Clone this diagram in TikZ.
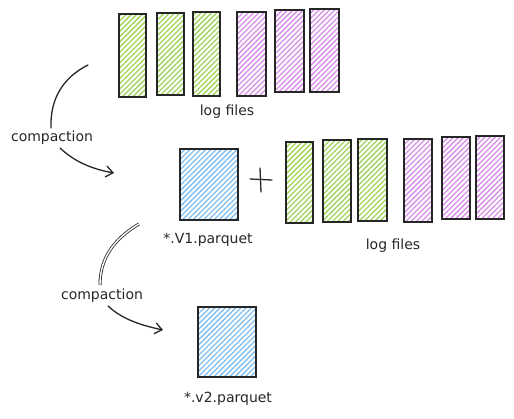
\documentclass[tikz,border=0pt]{standalone}
\usepackage{fontspec}
\setmainfont{DejaVu Sans}
\usetikzlibrary{patterns.meta,arrows.meta}
\definecolor{hgreen}{HTML}{9CD35A}
\definecolor{hpurple}{HTML}{D68BE8}
\definecolor{hblue}{HTML}{7DBDF2}
\tikzset{
  hatch/.style={pattern={Lines[angle=45,distance=3.7pt,line width=1.3pt]}},
  filebox/.style={draw=black!85, line width=1.4pt, inner sep=0pt, minimum width=28pt, minimum height=83pt},
  greenf/.style={filebox, hatch, pattern color=hgreen},
  purplef/.style={filebox, hatch, pattern color=hpurple},
  parq/.style={draw=black!85, line width=1.4pt, inner sep=0pt, minimum width=58pt, minimum height=71pt, hatch, pattern color=hblue},
  lbl/.style={font=\fontsize{14}{16}\selectfont, text=black!85, inner sep=0pt},
  sk/.style={line width=1.3pt, draw=black!85, line cap=round},
  arr/.style={sk, -{Straight Barb[length=7pt,width=11pt,line width=1.3pt]}}
}
\begin{document}
\begin{tikzpicture}[x=1pt,y=-1pt]
\useasboundingbox (0,0) rectangle (514,418);
% top row
\node[greenf, minimum width=27pt, minimum height=83pt] (g1) at (132.5,55.5) {};
\node[greenf, minimum width=27pt, minimum height=82pt] (g2) at (170.5,54) {};
\node[greenf, minimum width=27pt, minimum height=84pt] (g3) at (206.5,54) {};
\node[purplef, minimum width=29pt, minimum height=84pt] (p1) at (251.5,54) {};
\node[purplef, minimum width=29pt, minimum height=82pt] (p2) at (289.5,51) {};
\node[purplef, minimum width=29pt, minimum height=83pt] (p3) at (324.5,50.5) {};
\node[lbl] (logtop) at (227,112) {log files};
% middle row
\node[parq] (v1) at (209,184.5) {};
\node[greenf, minimum width=27pt, minimum height=81pt] (mg1) at (299.5,182.5) {};
\node[greenf, minimum width=28pt, minimum height=82pt] (mg2) at (337,181) {};
\node[greenf, minimum width=29pt, minimum height=82pt] (mg3) at (372.5,180) {};
\node[purplef, minimum width=28pt, minimum height=83pt] (mp1) at (418,180.5) {};
\node[purplef, minimum width=28pt, minimum height=82pt] (mp2) at (456,178) {};
\node[purplef, minimum width=28pt, minimum height=83pt] (mp3) at (490,177.5) {};
\node[lbl] (v1l) at (208,240) {*.V1.parquet};
\node[lbl] (logmid) at (393,246) {log files};
% plus sign
\coordinate (ph1) at (250,179);
\coordinate (ph2) at (272,180);
\coordinate (pv1) at (260,168);
\coordinate (pv2) at (261,192);
\draw[sk] (ph1) -- (ph2);
\draw[sk] (pv1) -- (pv2);
% bottom
\node[parq, minimum height=70pt] (v2) at (227,342) {};
\node[lbl] (v2l) at (228,399) {*.v2.parquet};
% compaction 1
\node[lbl] (c1) at (52,138) {compaction};
\coordinate (a1s) at (88,65);
\coordinate (a1e) at (51,128);
\draw[sk] (a1s) .. controls (62,78) and (50,100) .. (a1e);
\coordinate (b1s) at (60,148);
\coordinate (b1e) at (114,173);
\draw[arr] (b1s) .. controls (75,162) and (92,169) .. (b1e);
% compaction 2
\node[lbl] (c2) at (102,296) {compaction};
\coordinate (a2s) at (139,224);
\coordinate (a2e) at (100,285);
\draw[line width=0.8pt, draw=black!85, double=white, double distance=1.4pt] (a2s) .. controls (112,240) and (100,260) .. (a2e);
\coordinate (b2s) at (108,306);
\coordinate (b2e) at (163,330);
\draw[arr] (b2s) .. controls (122,319) and (140,325) .. (b2e);
\end{tikzpicture}
\end{document}
